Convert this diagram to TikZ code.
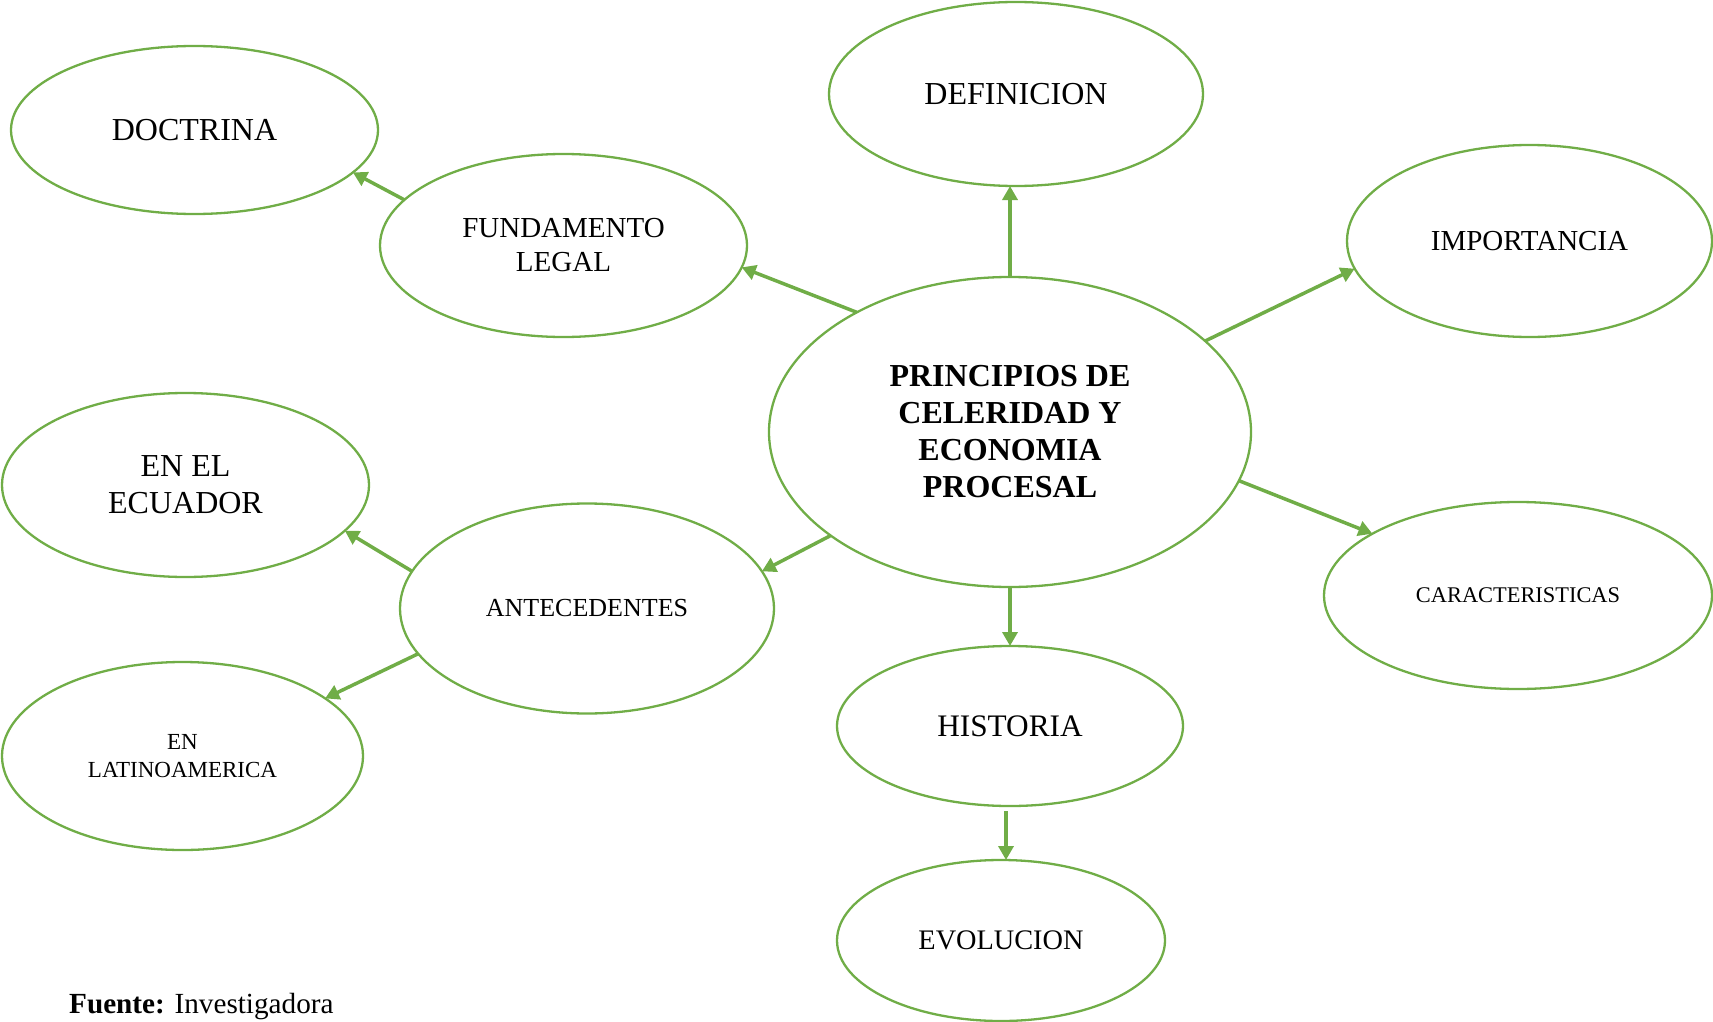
\documentclass[tikz,border=0pt]{standalone}
\usepackage{fontspec}
\setmainfont{Liberation Serif}
\usetikzlibrary{shapes.geometric,arrows.meta}
\definecolor{ogreen}{RGB}{112,173,71}
\tikzset{
  bub/.style={ellipse,draw=ogreen,line width=2.3pt,inner sep=0pt,outer sep=0pt,align=center,text=black},
  arr/.style={draw=ogreen,line width=3.5pt,-{Triangle[length=14pt,width=15pt]}},
}
\newcommand{\fs}[2]{\fontsize{#1}{#2}\selectfont}
\begin{document}
\begin{tikzpicture}[x=1pt,y=-1pt]
\useasboundingbox (0,0) rectangle (1713,1022);
\node[bub,minimum width=367pt,minimum height=168pt,font=\fs{32}{37}] (doc) at (194.5,130) {DOCTRINA};
\node[bub,minimum width=374pt,minimum height=184pt,font=\fs{32}{37}] (def) at (1016,94) {DEFINICION};
\node[bub,minimum width=367pt,minimum height=183pt,font=\fs{29}{34}] (fund) at (563.5,245.5) {FUNDAMENTO\\LEGAL};
\node[bub,minimum width=365pt,minimum height=192pt,font=\fs{29}{34}] (imp) at (1529.5,241) {IMPORTANCIA};
\node[bub,minimum width=482pt,minimum height=310pt,font=\fs{32}{37}\bfseries] (cent) at (1010,432) {PRINCIPIOS DE\\CELERIDAD Y\\ECONOMIA\\PROCESAL};
\node[bub,minimum width=367pt,minimum height=184pt,font=\fs{32}{37}] (ecu) at (185.5,485) {EN EL\\ECUADOR};
\node[bub,minimum width=374pt,minimum height=210pt,font=\fs{26}{30}] (ante) at (587,608.5) {ANTECEDENTES};
\node[bub,minimum width=388pt,minimum height=187pt,font=\fs{22.4}{27}] (car) at (1518,595.5) {CARACTERISTICAS};
\node[bub,minimum width=361pt,minimum height=188pt,font=\fs{23}{28.4}] (lat) at (182.5,756) {EN\\LATINOAMERICA};
\node[bub,minimum width=346pt,minimum height=160pt,font=\fs{31.3}{36}] (hist) at (1010,726) {HISTORIA};
\node[bub,minimum width=328pt,minimum height=161pt,font=\fs{28.3}{33}] (evol) at (1001,940.5) {EVOLUCION};
\node[anchor=base west,inner sep=0pt,font=\fs{29.2}{34}] (src) at (69,1013) {\textbf{Fuente:} Investigadora};

\draw[arr] (cent.north) -- (cent.north |- def.south);
\draw[arr] (cent.142.5) -- (fund.-7);
\draw[arr] (fund.164.8) -- (doc.-15.2);
\draw[arr] (cent.25.1) -- (imp.-171.6);
\draw[arr] (cent.-12.0) -- (car.157.4);
\draw[arr] (cent.-150.2) -- (ante.12.75);
\draw[arr] (cent.south) -- (hist.north);
\draw[arr] ([xshift=-4pt,yshift=-5pt]hist.south) -- ([xshift=5pt]evol.north);
\draw[arr] (ante.168.4) -- (ecu.-16.95);
\draw[arr] (ante.-165.1) -- (lat.22.4);
\end{tikzpicture}
\end{document}
